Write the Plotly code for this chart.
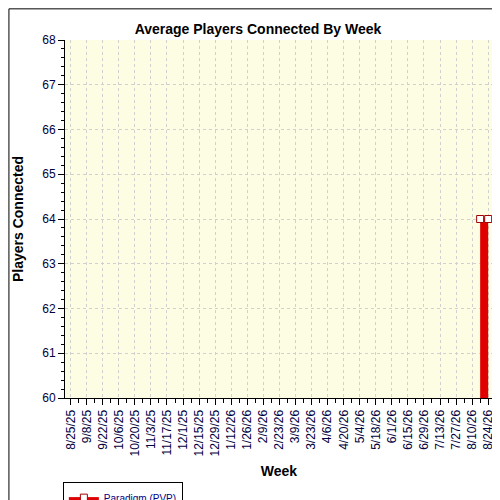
import datetime as dt
import plotly.graph_objects as go

start = dt.date(2025, 8, 25)
weeks = [start + dt.timedelta(weeks=i) for i in range(53)]
week_labels = [f"{d.month}/{d.day}/{d.year % 100}" for d in weeks]
players = [None] * 51 + [64, 64]

idx = list(range(len(weeks)))

fig = go.Figure()
fig.add_trace(go.Scatter(
    x=idx, y=players, name="Paradigm (PVP)", mode="lines+markers",
    fill="tozeroy", fillcolor="#E00000",
    line=dict(color="#E00000", width=1),
    marker=dict(symbol="square", size=7, color="white", line=dict(color="#A00000", width=1)),
))

fig.update_layout(
    width=500, height=500,
    paper_bgcolor="white", plot_bgcolor="#FDFDE4",
    margin=dict(l=57, r=15, t=32, b=110, autoexpand=False),
    title=dict(text="<b>Average Players Connected By Week</b>", x=0.5, y=0.968,
               font=dict(family="Arial", size=14, color="black")),
    font=dict(family="Arial", size=12, color="black"),
    showlegend=True,
    legend=dict(x=-0.005, y=-0.235, xanchor="left", yanchor="top", orientation="h",
                bordercolor="black", borderwidth=1, bgcolor="white",
                font=dict(size=10, color="#000080")),
    xaxis=dict(
        range=[-0.7, 52.6], tickvals=idx[::2], ticktext=week_labels[::2], tickangle=-90,
        ticks="outside", ticklen=6, tickcolor="black", showline=True, linecolor="black",
        showgrid=True, gridcolor="#D0D0D0", griddash="dot", automargin=False,
        minor=dict(tickvals=idx[1::2], ticks="outside", ticklen=4, tickcolor="black", showgrid=False),
        title=dict(text="<b>Week</b>", standoff=10), tickfont=dict(color="#000040"),
        zeroline=False,
    ),
    yaxis=dict(
        range=[60, 68], dtick=1, ticks="outside", ticklen=6, tickcolor="black",
        showline=True, linecolor="black", automargin=False,
        showgrid=True, gridcolor="#D0D0D0", griddash="dot",
        minor=dict(dtick=0.2, ticks="outside", ticklen=3, tickcolor="black", showgrid=False),
        title=dict(text="<b>Players Connected</b>"), tickfont=dict(color="#000040"),
        zeroline=False,
    ),
    shapes=[
        dict(type="rect", xref="paper", yref="paper", x0=-0.131, x1=1.033, y0=-0.302, y1=1.087,
             line=dict(color="black", width=1), layer="above"),
        dict(type="line", xref="paper", yref="paper", x0=1, x1=1, y0=0, y1=1,
             line=dict(color="black", width=1)),
    ],
)

fig.write_html("out.html")
